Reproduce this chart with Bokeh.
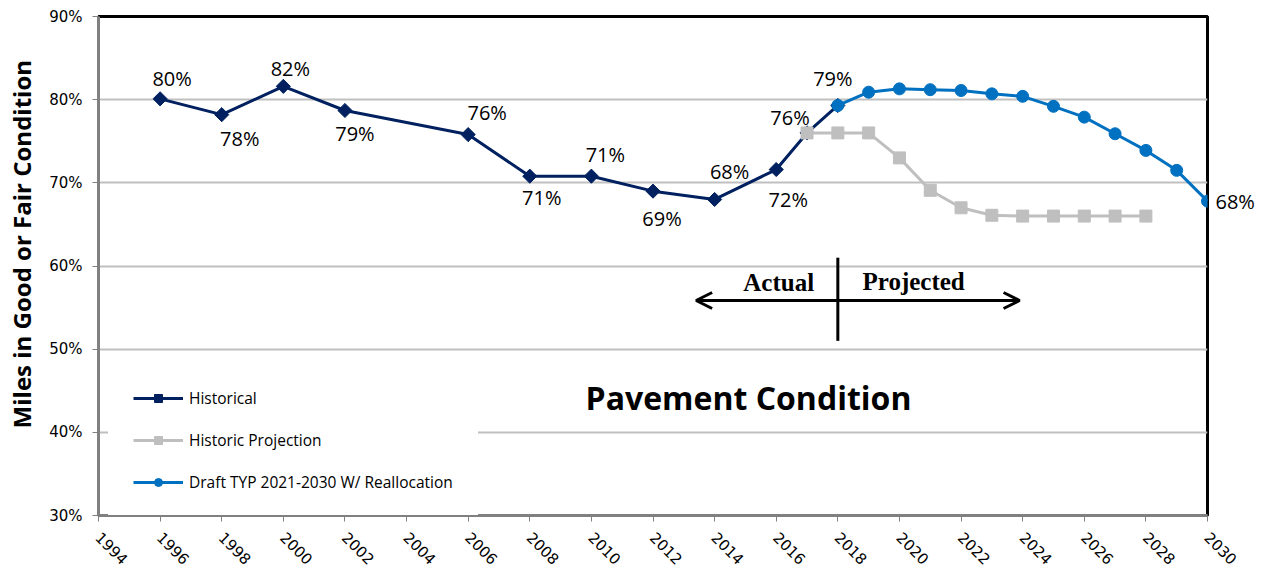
import math
from bokeh.plotting import figure
from bokeh.models import (ColumnDataSource, FixedTicker, PrintfTickFormatter, Label, LabelSet,
                          Arrow, OpenHead, Legend, LegendItem, LinearAxis)
from bokeh.core.properties import value
from bokeh.embed import file_html
from bokeh.resources import INLINE

# ---------------- data ----------------
years_hist = [1996, 1998, 2000, 2002, 2006, 2008, 2010, 2012, 2014, 2016, 2017, 2018]
vals_hist = [80.1, 78.2, 81.6, 78.7, 75.8, 70.8, 70.8, 69.0, 68.0, 71.6, 76.0, 79.3]
labels_hist = ["80%", "78%", "82%", "79%", "76%", "71%", "71%", "69%", "68%", "72%", "76%", "79%"]

years_proj = [2017, 2018, 2019, 2020, 2021, 2022, 2023, 2024, 2025, 2026, 2027, 2028]
vals_proj = [76.0, 76.0, 76.0, 73.0, 69.1, 67.0, 66.1, 66.0, 66.0, 66.0, 66.0, 66.0]

years_draft = [2018, 2019, 2020, 2021, 2022, 2023, 2024, 2025, 2026, 2027, 2028, 2029, 2030]
vals_draft = [79.3, 80.9, 81.3, 81.2, 81.1, 80.7, 80.4, 79.2, 77.9, 75.9, 73.9, 71.5, 67.8]

x_ticks = list(range(1994, 2031, 2))
y_ticks = [30, 40, 50, 60, 70, 80, 90]

# label placement (screen px, positive = up)
lbl_dx = [12, 18, 7, 10, 19, 12, 14, 9, 15, 12, -17, -5]
lbl_dy = [20, -24, 18, -23, 22, -21, 22, -27, 28, -30, 15, 27]

NAVY = "#002060"
GRAY = "#BFBFBF"
BLUE = "#0070C0"

p = figure(width=1266, height=572, output_backend="svg", toolbar_location=None,
           x_range=(1994, 2030), y_range=(30, 90),
           min_border_left=98, min_border_right=59, min_border_top=16, min_border_bottom=57)

p.outline_line_color = "black"
p.outline_line_width = 3

p.xgrid.grid_line_color = None
p.ygrid.grid_line_color = "#C0C0C0"
p.ygrid.grid_line_width = 2
p.ygrid.ticker = FixedTicker(ticks=y_ticks)

for ax in (p.xaxis[0], p.yaxis[0]):
    ax.axis_line_color = "#808080"
    ax.axis_line_width = 3
    ax.major_tick_line_color = "#808080"
    ax.major_tick_line_width = 1
    ax.major_tick_in = 0
    ax.major_tick_out = 6
    ax.minor_tick_line_color = None
    ax.major_label_text_font = "DejaVu Sans"
    ax.major_label_text_font_size = "15px"
    ax.major_label_text_color = "black"

p.xaxis.ticker = FixedTicker(ticks=x_ticks)
p.xaxis.major_label_orientation = -math.pi / 4
p.xaxis.major_label_standoff = 13

p.yaxis.ticker = FixedTicker(ticks=y_ticks)
p.yaxis.formatter = PrintfTickFormatter(format="%d%%")
p.yaxis.major_label_standoff = 10
p.yaxis.axis_label = "\u00a0" * 7 + "Miles in Good or Fair Condition"
p.yaxis.axis_label_text_font = "Open Sans"
p.yaxis.axis_label_text_font_style = "bold"
p.yaxis.axis_label_text_font_size = "24px"
p.yaxis.axis_label_text_color = "black"
p.yaxis.axis_label_standoff = 8

# right-hand axis carrying the end value label of the draft series
right = LinearAxis(ticker=FixedTicker(ticks=[vals_draft[-1]]),
                   formatter=PrintfTickFormatter(format="%.0f%%"))
right.axis_line_color = None
right.major_tick_line_color = None
right.minor_tick_line_color = None
right.major_tick_out = 0
right.major_tick_in = 0
right.major_label_standoff = 8
right.major_label_text_font = "Open Sans"
right.major_label_text_font_size = "20px"
right.major_label_text_color = "black"
p.add_layout(right, "right")

src_h = ColumnDataSource(dict(x=years_hist, y=vals_hist, t=labels_hist, dx=lbl_dx, dy=lbl_dy))
src_p = ColumnDataSource(dict(x=years_proj, y=vals_proj))
src_d = ColumnDataSource(dict(x=years_draft, y=vals_draft))

lh = p.line("x", "y", source=src_h, line_color=NAVY, line_width=3)
sh = p.scatter("x", "y", source=src_h, marker="square", angle=math.pi / 4, size=10,
               fill_color=NAVY, line_color=NAVY)
lp = p.line("x", "y", source=src_p, line_color=GRAY, line_width=3)
sp = p.scatter("x", "y", source=src_p, marker="square", size=12, fill_color=GRAY, line_color=GRAY)
ld = p.line("x", "y", source=src_d, line_color=BLUE, line_width=3)
sd = p.scatter("x", "y", source=src_d, marker="circle", size=12, fill_color=BLUE, line_color=BLUE)

labels = LabelSet(x="x", y="y", text="t", x_offset="dx", y_offset="dy", source=src_h,
                  text_font=value("Open Sans"), text_font_size=value("20px"), text_color="black",
                  text_align="center", text_baseline="middle")
p.add_layout(labels)

# annotation: title and actual / projected divider
p.add_layout(Label(x=2015.1, y=44.2, text="Pavement Condition", text_font="Open Sans",
                   text_font_style="bold", text_font_size="32px", text_color="black",
                   text_align="center", text_baseline="middle"))
p.add_layout(Arrow(x_start=2013.4, y_start=55.85, x_end=2023.9, y_end=55.85, line_width=3,
                   line_color="black",
                   start=OpenHead(size=16, line_width=3, line_color="black"),
                   end=OpenHead(size=16, line_width=3, line_color="black")))
p.add_layout(Arrow(x_start=2018, y_start=51, x_end=2018, y_end=61, line_width=3,
                   line_color="black", end=None))
p.add_layout(Label(x=2016.08, y=57.97, text="Actual", text_font="Liberation Serif",
                   text_font_style="bold", text_font_size="25px", text_color="black",
                   text_align="center", text_baseline="middle"))
p.add_layout(Label(x=2020.46, y=58.1, text="Projected", text_font="Liberation Serif",
                   text_font_style="bold", text_font_size="25px", text_color="black",
                   text_align="center", text_baseline="middle"))

legend = Legend(items=[
    LegendItem(label="Historical", renderers=[lh, sh]),
    LegendItem(label="Historic Projection", renderers=[lp, sp]),
    LegendItem(label="Draft TYP 2021-2030 W/ Reallocation", renderers=[ld, sd]),
], location=(10, -3))
legend.background_fill_color = "white"
legend.background_fill_alpha = 1
legend.border_line_color = "white"
legend.border_line_alpha = 0
legend.label_text_font = "Open Sans"
legend.label_text_font_size = "15.5px"
legend.label_text_color = "black"
legend.glyph_width = 50
legend.glyph_height = 20
legend.label_height = 20
legend.spacing = 20
legend.padding = 25
legend.margin = 0
legend.label_standoff = 6
p.add_layout(legend)

open("out.html", "w").write(file_html(p, INLINE))
